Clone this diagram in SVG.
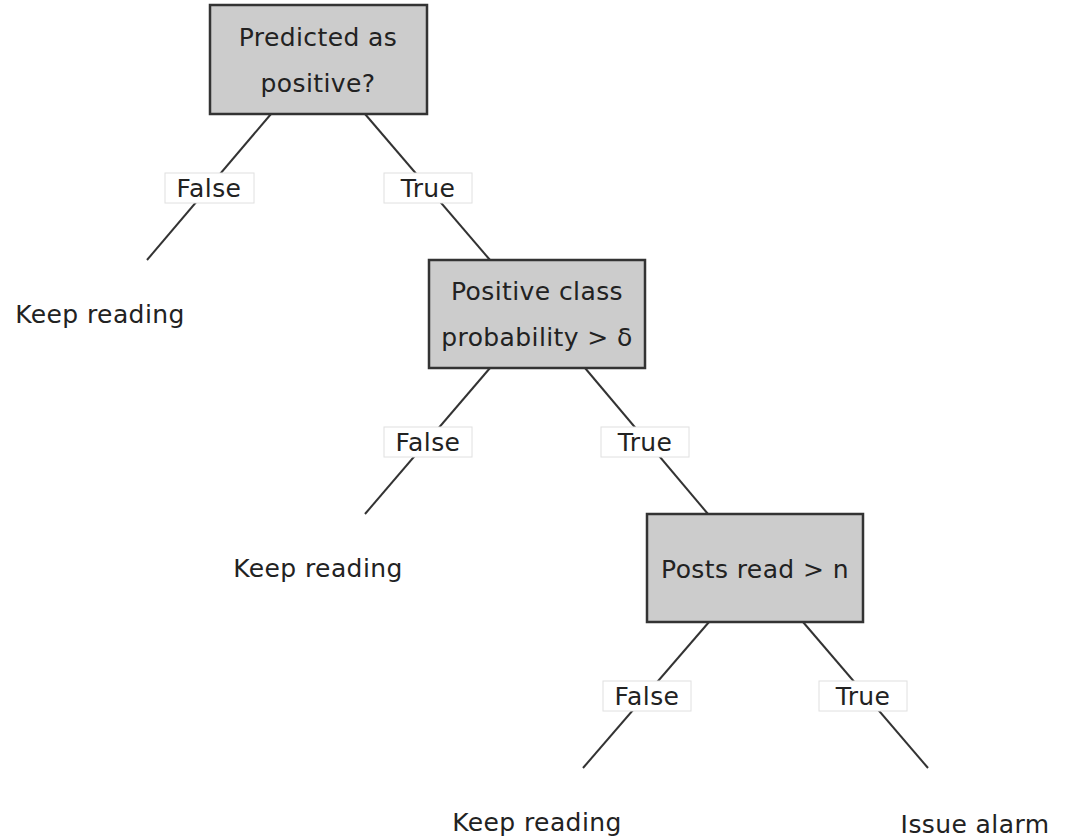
<svg xmlns="http://www.w3.org/2000/svg" width="1066" height="840" viewBox="0 0 1066 840">
  <style>
    text { font-family: "DejaVu Sans", Verdana, sans-serif; font-size: 25px; letter-spacing: 0.4px; fill: #222; text-anchor: middle; dominant-baseline: central; }
    .node rect { fill: #cccccc; stroke: #333; stroke-width: 2.5; }
    .edge line { stroke: #333; stroke-width: 2; }
    .tag rect { fill: #fff; stroke: #e0e0e0; stroke-width: 1; }
  </style>
  <rect width="1066" height="840" fill="#fff"/>

  <!-- connectors -->
  <g id="connectors" class="edge">
    <line x1="271" y1="114" x2="147" y2="260"/>
    <line x1="365" y1="114" x2="490" y2="260"/>
    <line x1="490" y1="368" x2="365" y2="514"/>
    <line x1="585" y1="368" x2="708" y2="514"/>
    <line x1="709" y1="622" x2="583" y2="768"/>
    <line x1="803" y1="622" x2="928" y2="768"/>
  </g>

  <!-- branch labels -->
  <g id="labels" class="tag">
    <rect x="165" y="173" width="89" height="30"/>
    <text x="209" y="188">False</text>
    <rect x="384" y="173" width="88" height="30"/>
    <text x="428" y="188">True</text>
    <rect x="384" y="427" width="88" height="30"/>
    <text x="428" y="442">False</text>
    <rect x="601" y="427" width="88" height="30"/>
    <text x="645" y="442">True</text>
    <rect x="603" y="681" width="88" height="30"/>
    <text x="647" y="696">False</text>
    <rect x="819" y="681" width="88" height="30"/>
    <text x="863" y="696">True</text>
  </g>

  <!-- decision nodes -->
  <g id="node-predicted" class="node">
    <rect x="210" y="5" width="217" height="109"/>
    <text x="318" y="37">Predicted as</text>
    <text x="318" y="83">positive?</text>
  </g>
  <g id="node-probability" class="node">
    <rect x="429" y="260" width="216" height="108"/>
    <text x="537" y="291">Positive class</text>
    <text x="537" y="337">probability &gt; δ</text>
  </g>
  <g id="node-posts" class="node">
    <rect x="647" y="514" width="216" height="108"/>
    <text x="755" y="569">Posts read &gt; n</text>
  </g>

  <!-- leaves -->
  <g id="leaf-1"><text x="100" y="314">Keep reading</text></g>
  <g id="leaf-2"><text x="318" y="568">Keep reading</text></g>
  <g id="leaf-3"><text x="537" y="822">Keep reading</text></g>
  <g id="leaf-4"><text x="975" y="824">Issue alarm</text></g>
</svg>
